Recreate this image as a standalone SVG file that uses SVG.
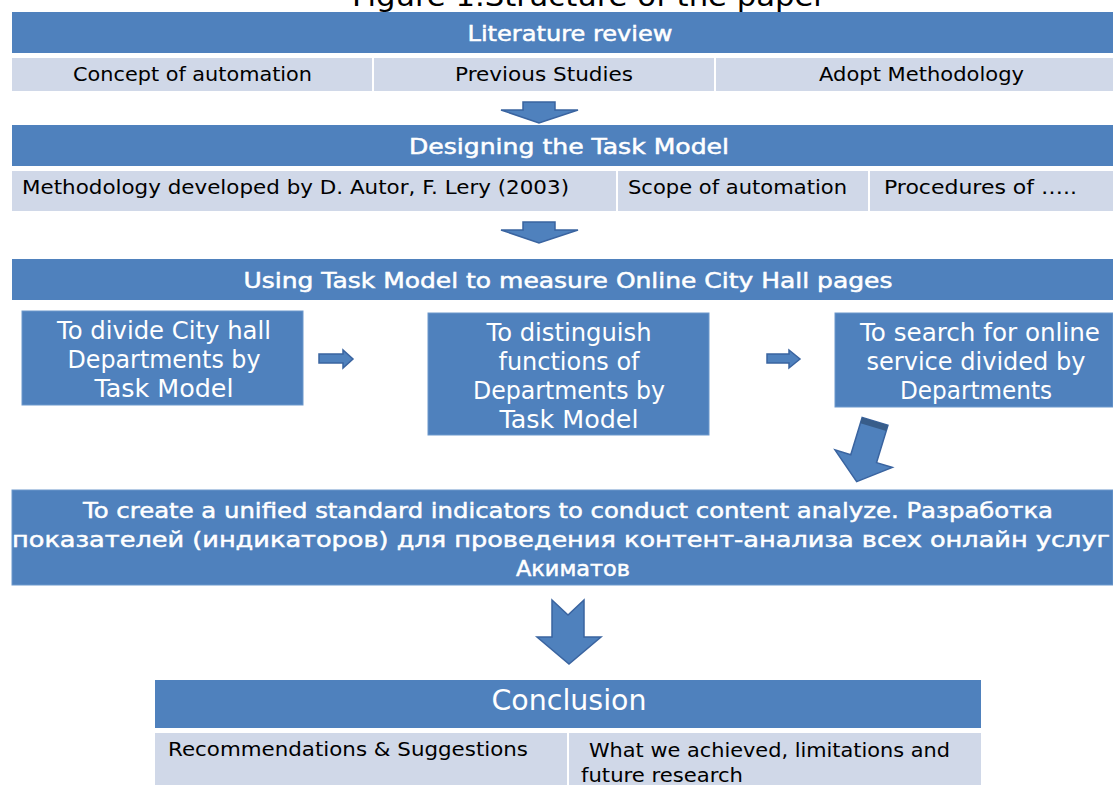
<svg xmlns="http://www.w3.org/2000/svg" width="1113" height="785" viewBox="0 0 1113 785">
<style>
.hdr{fill:#4F81BD}
.cell{fill:#D0D8E8}
.box{fill:#4F81BD;stroke:#6C98CC;stroke-width:1}
.wt{fill:#FFFFFF;font-family:"DejaVu Sans","Liberation Sans",sans-serif;text-anchor:middle}
.semi{stroke:#FFFFFF;stroke-width:0.5}
.bk{fill:#000000;font-family:"DejaVu Sans","Liberation Sans",sans-serif}
.arr{fill:#4F81BD;stroke:#3A64A0;stroke-width:1.5;stroke-linejoin:miter}
</style>
<rect width="1113" height="785" fill="#FFFFFF"/>
<g id="title">
<text x="352" y="6" class="bk" font-size="28" textLength="474" lengthAdjust="spacingAndGlyphs">Figure 1.Structure of the paper</text>
</g>
<g id="literature-review">
<rect class="hdr" x="12" y="12" width="1101" height="41"/>
<text x="570" y="41" class="wt semi" font-size="21" textLength="205" lengthAdjust="spacingAndGlyphs">Literature review</text>
<rect class="cell" x="12" y="58" width="360" height="33"/>
<rect class="cell" x="374" y="58" width="340" height="33"/>
<rect class="cell" x="716" y="58" width="397" height="33"/>
<text x="73" y="81" class="bk" font-size="19" textLength="239" lengthAdjust="spacingAndGlyphs">Concept of automation</text>
<text x="455" y="81" class="bk" font-size="19" textLength="178" lengthAdjust="spacingAndGlyphs">Previous Studies</text>
<text x="819" y="81" class="bk" font-size="19" textLength="205" lengthAdjust="spacingAndGlyphs">Adopt Methodology</text>
</g>
<g id="designing-task-model">
<rect class="hdr" x="12" y="125" width="1101" height="41"/>
<text x="569" y="154" class="wt semi" font-size="21" textLength="320" lengthAdjust="spacingAndGlyphs">Designing the Task Model</text>
<rect class="cell" x="12" y="171" width="604" height="40"/>
<rect class="cell" x="618" y="171" width="250" height="40"/>
<rect class="cell" x="870" y="171" width="243" height="40"/>
<text x="22" y="194" class="bk" font-size="19" textLength="547" lengthAdjust="spacingAndGlyphs">Methodology developed by D. Autor, F. Lery (2003)</text>
<text x="628" y="194" class="bk" font-size="19" textLength="219" lengthAdjust="spacingAndGlyphs">Scope of automation</text>
<text x="884" y="194" class="bk" font-size="19" textLength="193" lengthAdjust="spacingAndGlyphs">Procedures of …..</text>
</g>
<g id="using-task-model">
<rect class="hdr" x="12" y="259" width="1101" height="41"/>
<text x="568" y="288" class="wt semi" font-size="21" textLength="649" lengthAdjust="spacingAndGlyphs">Using Task Model to measure Online City Hall pages</text>
</g>
<g id="divide-departments">
<rect class="box" x="22" y="311" width="281" height="94"/>
<text x="164" y="339" class="wt" font-size="24" textLength="214" lengthAdjust="spacingAndGlyphs">To divide City hall</text>
<text x="164" y="368" class="wt" font-size="24" textLength="193" lengthAdjust="spacingAndGlyphs">Departments by</text>
<text x="164" y="397" class="wt" font-size="24" textLength="139" lengthAdjust="spacingAndGlyphs">Task Model</text>
</g>
<g id="distinguish-functions">
<rect class="box" x="428" y="313" width="281" height="122"/>
<text x="569" y="341" class="wt" font-size="24" textLength="165" lengthAdjust="spacingAndGlyphs">To distinguish</text>
<text x="569" y="370" class="wt" font-size="24" textLength="141" lengthAdjust="spacingAndGlyphs">functions of</text>
<text x="569" y="399" class="wt" font-size="24" textLength="192" lengthAdjust="spacingAndGlyphs">Departments by</text>
<text x="569" y="428" class="wt" font-size="24" textLength="139" lengthAdjust="spacingAndGlyphs">Task Model</text>
</g>
<g id="search-online-service">
<rect class="box" x="835" y="313" width="278" height="94"/>
<text x="980" y="341" class="wt" font-size="24" textLength="240" lengthAdjust="spacingAndGlyphs">To search for online</text>
<text x="976" y="370" class="wt" font-size="24" textLength="219" lengthAdjust="spacingAndGlyphs">service divided by</text>
<text x="976" y="399" class="wt" font-size="24" textLength="152" lengthAdjust="spacingAndGlyphs">Departments</text>
</g>
<g id="unified-indicators">
<rect class="box" x="12" y="490" width="1101" height="95"/>
<text x="568" y="518" class="wt semi" font-size="22" textLength="970" lengthAdjust="spacingAndGlyphs">To create a unified standard indicators to conduct content analyze. Разработка</text>
<text x="561" y="547" class="wt semi" font-size="22" textLength="1098" lengthAdjust="spacingAndGlyphs">показателей (индикаторов) для проведения контент-анализа всех онлайн услуг</text>
<text x="573" y="576" class="wt semi" font-size="22" textLength="114" lengthAdjust="spacingAndGlyphs">Акиматов</text>
</g>
<g id="conclusion">
<rect class="hdr" x="155" y="680" width="826" height="48"/>
<text x="569" y="710" class="wt" font-size="28" textLength="155" lengthAdjust="spacingAndGlyphs">Conclusion</text>
<rect class="cell" x="155" y="733" width="412" height="52"/>
<rect class="cell" x="569" y="733" width="412" height="52"/>
<text x="168" y="756" class="bk" font-size="19" textLength="360" lengthAdjust="spacingAndGlyphs">Recommendations &amp; Suggestions</text>
<text x="589" y="757" class="bk" font-size="19" textLength="361" lengthAdjust="spacingAndGlyphs">What we achieved, limitations and</text>
<text x="581" y="782" class="bk" font-size="19" textLength="162" lengthAdjust="spacingAndGlyphs">future research</text>
</g>
<g id="connectors">
<polygon class="arr" points="523,102 555,102 555,110 578,110 539,123 501,110 523,110"/>
<polygon class="arr" points="523,222 555,222 555,230 578,230 539,243 501,230 523,230"/>
<polygon class="arr" points="319,354 343,354 343,350 353,359 343,368 343,363 319,363"/>
<polygon class="arr" points="767,354 789,354 789,350 800,359 789,368 789,363 767,363"/>
<g transform="translate(866,451) rotate(17)">
<polygon class="arr" points="-13.5,-31 13.5,-31 13.5,8 30,8 0,32 -30,8 -13.5,8"/>
<rect x="-13.5" y="-31" width="27" height="6" fill="#385D8A"/>
</g>
<polygon class="arr" points="552,600 568,615 584,600 584,637 601,637 569,664 537,637 552,637"/>
</g>
</svg>
